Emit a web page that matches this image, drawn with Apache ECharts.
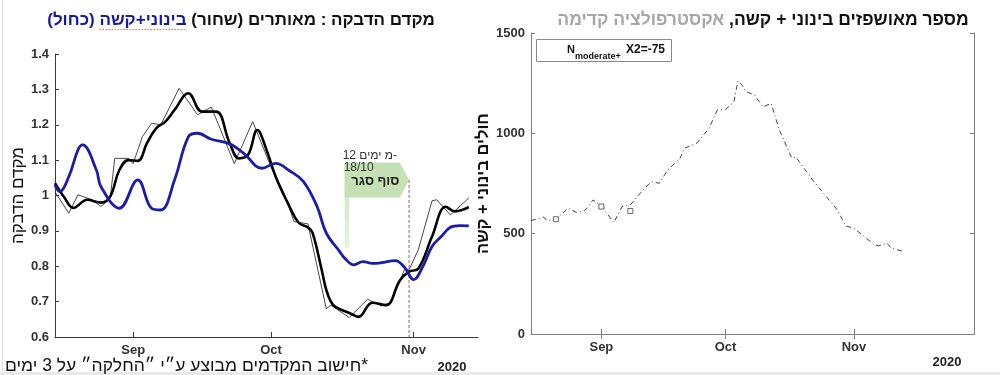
<!DOCTYPE html>
<html><head><meta charset="utf-8">
<script src="https://cdn.jsdelivr.net/npm/echarts@6/dist/echarts.min.js"></script>
<style>html,body{margin:0;padding:0;background:#fff}#c{width:1000px;height:375px}</style>
</head><body><div id="c"></div>
<script>
// ---------- data ----------
const monthTicks = {'09-01':'Sep','10-01':'Oct','11-01':'Nov'};
const leftYTicks = [0.6,0.7,0.8,0.9,1.0,1.1,1.2,1.3,1.4];
const rightYTicks = [0,500,1000,1500];

// smoothed (thick black) reproduction coefficient, detected cases
const thickBlack = [['08-15',1.035],['08-17',0.995],['08-19',0.965],['08-22',0.988],['08-25',0.98],['08-27',0.997],['08-29',1.072],['08-31',1.10],['09-02',1.098],['09-04',1.148],['09-06',1.19],['09-08',1.209],['09-10',1.242],['09-13',1.289],['09-16',1.237],['09-19',1.237],['09-22',1.148],['09-24',1.105],['09-26',1.115],['09-28',1.185],['09-30',1.129],['10-02',1.053],['10-05',0.969],['10-07',0.923],['10-09',0.91],['10-10',0.895],['10-12',0.79],['10-13',0.733],['10-14',0.70],['10-15',0.685],['10-18',0.668],['10-20',0.657],['10-23',0.697],['10-26',0.69],['10-29',0.76],['10-31',0.785],['11-02',0.793],['11-05',0.884],['11-08',0.968],['11-10',0.955],['11-13',0.967]];
// raw (thin black)
const thinBlack = [['08-15',1.01],['08-18',0.95],['08-20',1.002],['08-23',0.988],['08-25',0.969],['08-27',0.992],['08-28',1.105],['08-31',1.105],['09-01',1.09],['09-03',1.166],['09-05',1.204],['09-07',1.20],['09-11',1.303],['09-15',1.228],['09-18',1.25],['09-23',1.09],['09-27',1.209],['10-01',1.08],['10-04',1.0],['10-06',0.926],['10-09',0.92],['10-13',0.68],['10-14',0.69],['10-18',0.655],['10-22',0.707],['10-23',0.70],['10-25',0.688],['10-27',0.696],['10-30',0.79],['10-31',0.79],['11-02',0.846],['11-05',0.985],['11-06',0.988],['11-09',0.945],['11-13',0.993]];
// moderate+severe (blue)
const blueSevere = [['08-15',1.03],['08-16',1.011],['08-18',1.053],['08-20',1.129],['08-21',1.143],['08-24',1.072],['08-25',1.025],['08-29',0.964],['09-02',1.044],['09-05',0.964],['09-07',0.959],['09-10',1.044],['09-13',1.166],['09-15',1.176],['09-18',1.159],['09-22',1.146],['09-25',1.12],['09-29',1.077],['10-02',1.091],['10-05',1.07],['10-08',1.04],['10-11',0.969],['10-13',0.894],['10-16',0.84],['10-17',0.823],['10-19',0.804],['10-21',0.813],['10-23',0.808],['10-25',0.81],['10-28',0.816],['10-30',0.797],['11-01',0.762],['11-03',0.799],['11-05',0.856],['11-07',0.884],['11-09',0.91],['11-11',0.915],['11-13',0.914]];
// hospitalized moderate+severe (right panel)
const hospital = [['08-15',565],['08-18',582],['08-19',565],['08-21',572],['08-24',627],['08-26',605],['08-28',615],['08-30',668],['09-01',638],['09-04',555],['09-06',635],['09-08',643],['09-10',693],['09-13',759],['09-15',751],['09-17',817],['09-20',875],['09-21',925],['09-24',950],['09-27',1025],['09-29',1116],['10-01',1119],['10-03',1157],['10-04',1262],['10-05',1240],['10-06',1207],['10-08',1191],['10-10',1132],['10-12',1149],['10-14',1016],['10-17',876],['10-18',881],['10-22',768],['10-25',693],['10-28',618],['10-30',539],['11-01',527],['11-03',494],['11-06',444],['11-07',439],['11-09',453],['11-10',428],['11-13',411]];
const hospitalMarks = [['08-21',572],['09-01',635],['09-08',613]];

// annotation (flag "end of lockdown"): pole dates, body end, tip date; y values
const flagDates = ['10-17','10-18','10-29','10-31'];
const flagValues = [1.093, 1.044, 0.994, 0.852];

// ---------- categories ----------
function dayRange(a, b) {
  const out = [];
  const d = new Date(Date.UTC(2020, +a.slice(0,2)-1, +a.slice(3)));
  const e = new Date(Date.UTC(2020, +b.slice(0,2)-1, +b.slice(3)));
  while (d <= e) {
    out.push(String(d.getUTCMonth()+1).padStart(2,'0') + '-' + String(d.getUTCDate()).padStart(2,'0'));
    d.setUTCDate(d.getUTCDate()+1);
  }
  return out;
}
const leftCats = dayRange('08-15','11-15');
const rightCats = dayRange('08-15','11-30');

const FONT = '"Liberation Sans", Arimo, "DejaVu Sans", sans-serif';
const rtl = s => '\u202B' + s + '\u202C';

// text measuring helper (for the spell-check squiggle under the blue words)
const mctx = document.createElement('canvas').getContext('2d');
function tw(text, font) { mctx.font = font; return mctx.measureText(text).width; }

const chart = echarts.init(document.getElementById('c'), null, {renderer:'canvas'});

const monthInterval = (i, v) => Object.prototype.hasOwnProperty.call(monthTicks, v);
function catAxis(gridIndex, data, color, opts) {
  return Object.assign({
    type: 'category', gridIndex, data, boundaryGap: false,
    axisLine: {show: true, lineStyle: {color, width: 1}},
    axisTick: {show: true, inside: true, length: 5, interval: monthInterval, lineStyle: {color}},
    axisLabel: {show: true, interval: monthInterval, formatter: v => monthTicks[v] || '',
      color: '#333', fontWeight: 'bold', fontSize: 13, fontFamily: FONT, margin: 7},
    splitLine: {show: false}
  }, opts || {});
}

const flagIdx = flagDates.map(d => leftCats.indexOf(d));

function renderFlag(params, api) {
  const [pl, pr, br, tp] = flagIdx;
  const [top, tipY, bot, poleBot] = flagValues;
  const pTL = api.coord([pl, top]);
  const pBR = api.coord([pr, poleBot]);
  const bTR = api.coord([br, top]);
  const tip = api.coord([tp, tipY]);
  const bBR = api.coord([br, bot]);
  const bBL = api.coord([pl, bot]);
  const base = api.coord([tp, 0.6]);
  const green = '#c6e0b5';
  return {
    type: 'group',
    children: [
      {type: 'rect', shape: {x: pTL[0], y: pTL[1], width: pBR[0]-pTL[0], height: pBR[1]-pTL[1]},
        style: {fill: new echarts.graphic.LinearGradient(0,0,0,1,[{offset:0,color:green},{offset:1,color:'#e8f2e1'}])}},
      {type: 'polygon', shape: {points: [pTL, bTR, tip, bBR, bBL]}, style: {fill: green}},
      {type: 'line', shape: {x1: tip[0], y1: tip[1], x2: base[0], y2: base[1]},
        style: {stroke: '#c0504d', lineWidth: 1, lineDash: [3,2]}},
      {type: 'text', x: (pTL[0]+bTR[0])/2 + 3, y: (pTL[1]+bBL[1])/2 + 1,
        style: {text: rtl('סוף סגר'), fill: '#222', font: 'bold 13px ' + FONT, align: 'center', verticalAlign: 'middle'}},
      {type: 'text', x: pTL[0] - 2, y: pTL[1] - 7,
        style: {text: '{a|12 }{a|ימים }{a|מ-}', rich: {a: {fill: '#333', font: '12px ' + FONT}},
          align: 'left', verticalAlign: 'middle'}},
      {type: 'text', x: pTL[0] - 1, y: pTL[1] + 5,
        style: {text: '18/10', fill: '#333', font: '12px ' + FONT, align: 'left', verticalAlign: 'middle'}}
    ]
  };
}

// title layout
const T1F = 'bold 17px ' + FONT;
const t1Blue = 'בינוני+קשה (כחול)';
const t1Black = 'מקדם הדבקה : מאותרים (שחור)';
const t1W = tw(t1Blue + ' ', T1F) + tw(t1Black, T1F);
const t1Left = 241 - t1W / 2;
const sqX1 = t1Left + tw('(כחול) ', T1F);
const sqX2 = t1Left + tw(t1Blue, T1F);
const T2F = 'bold 17.5px ' + FONT;

const option = {
  animation: false,
  backgroundColor: '#ffffff',
  textStyle: {fontFamily: FONT},
  grid: [
    {left: 55, right: 522, top: 54, bottom: 38, outerBoundsMode: 'none'},
    {left: 531, right: 26, top: 33, bottom: 41, outerBoundsMode: 'none'}
  ],
  xAxis: [
    catAxis(0, leftCats, '#3a3a3a'),
    catAxis(1, rightCats, '#808080'),
    catAxis(1, rightCats, '#808080', {position: 'top', axisLabel: {show: false}})
  ],
  yAxis: [
    {type: 'value', gridIndex: 0, min: 0.6, max: 1.4, interval: 0.1,
      axisLine: {show: true, lineStyle: {color: '#3a3a3a'}},
      axisTick: {show: true, inside: true, length: 4, lineStyle: {color: '#3a3a3a'}},
      axisLabel: {color: '#333', fontWeight: 'bold', fontSize: 13, fontFamily: FONT, margin: 6,
        formatter: v => String(Math.round(v*10)/10)},
      splitLine: {show: false},
      name: rtl('מקדם הדבקה'), nameLocation: 'middle', nameRotate: 90, nameGap: 28,
      nameTextStyle: {color: '#111', fontSize: 17, fontFamily: FONT}},
    {type: 'value', gridIndex: 1, min: 0, max: 1500, interval: 500,
      axisLine: {show: true, lineStyle: {color: '#808080'}},
      axisTick: {show: true, inside: true, length: 4, lineStyle: {color: '#808080'}},
      axisLabel: {color: '#333', fontWeight: 'bold', fontSize: 13, fontFamily: FONT, margin: 6,
        formatter: v => String(v)},
      splitLine: {show: false},
      name: rtl('חולים בינוני + קשה'), nameLocation: 'middle', nameRotate: 90, nameGap: 26,
      nameTextStyle: {color: '#111', fontSize: 16.5, fontWeight: 'bold', fontFamily: FONT}},
    {type: 'value', gridIndex: 1, min: 0, max: 1500, interval: 500, position: 'right',
      axisLine: {show: true, lineStyle: {color: '#808080'}},
      axisTick: {show: true, inside: true, length: 4, lineStyle: {color: '#808080'}},
      axisLabel: {show: false}, splitLine: {show: false}}
  ],
  series: [
    {type: 'custom', xAxisIndex: 0, yAxisIndex: 0, renderItem: renderFlag, data: [[flagIdx[0], flagValues[0]]],
      encode: {x: 0, y: 1}, silent: true, clip: false, z: 1},
    {name: 'thin', type: 'line', xAxisIndex: 0, yAxisIndex: 0, data: thinBlack, showSymbol: false, symbol: 'none',
      lineStyle: {color: '#333', width: 0.9}, z: 3},
    {name: 'black', type: 'line', xAxisIndex: 0, yAxisIndex: 0, data: thickBlack, smooth: 0.4, symbol: 'none',
      lineStyle: {color: '#000', width: 2.6}, z: 4},
    {name: 'blue', type: 'line', xAxisIndex: 0, yAxisIndex: 0, data: blueSevere, smooth: 0.4, symbol: 'none',
      lineStyle: {color: '#1c1ca8', width: 2.8}, z: 5},
    {name: 'hosp', type: 'line', xAxisIndex: 1, yAxisIndex: 1, data: hospital, symbol: 'none',
      lineStyle: {color: '#444', width: 1, type: [5,3,1,3]}, z: 3},
    {name: 'marks', type: 'scatter', xAxisIndex: 1, yAxisIndex: 1, data: hospitalMarks, symbol: 'rect', symbolSize: 5,
      itemStyle: {color: '#fff', borderColor: '#444', borderWidth: 1}, z: 4}
  ],
  graphic: [
    {type: 'rect', left: 0, top: 372, shape: {width: 1000, height: 3}, style: {fill: '#e9e9e9'}},
    {type: 'rect', left: 2, top: 0, shape: {width: 1, height: 372}, style: {fill: '#dcdcdc'}},
    {type: 'text', x: 241, y: 20, style: {
      text: '{b|' + rtl(t1Blue) + ' }{k|' + rtl(t1Black) + '}',
      align: 'center', verticalAlign: 'middle',
      rich: {b: {fill: '#1a1a9c', font: T1F}, k: {fill: '#111', font: T1F}}}},
    {type: 'line', shape: {x1: sqX1, y1: 29.5, x2: sqX2, y2: 29.5}, style: {stroke: '#e07070', lineWidth: 1, lineDash: [1.5,1.5]}},
    {type: 'text', x: 763, y: 20, style: {
      text: '{g|' + rtl('אקסטרפולציה קדימה') + ' }{k|' + rtl('מספר מאושפזים בינוני + קשה,') + '}',
      align: 'center', verticalAlign: 'middle',
      rich: {g: {fill: '#a6a6a6', font: T2F}, k: {fill: '#111', font: T2F}}}},
    {type: 'text', x: 5, y: 366, style: {text: rtl('*חישוב המקדמים מבוצע ע״י ״החלקה״ על 3 ימים'),
      fill: '#111', font: '17.5px ' + FONT, align: 'left', verticalAlign: 'middle'}},
    {type: 'text', x: 452, y: 367, style: {text: '2020', fill: '#222', font: 'bold 13px ' + FONT, align: 'center', verticalAlign: 'middle'}},
    {type: 'text', x: 947, y: 362, style: {text: '2020', fill: '#222', font: 'bold 13px ' + FONT, align: 'center', verticalAlign: 'middle'}},
    {type: 'rect', left: 536, top: 39, shape: {width: 135, height: 22}, style: {fill: '#fff', stroke: '#8a8a8a', lineWidth: 1}, z: 10},
    {type: 'text', x: 567, y: 50, z: 11, style: {text: 'N', fill: '#111', font: 'bold 11px ' + FONT, align: 'left', verticalAlign: 'middle'}},
    {type: 'text', x: 575, y: 57, z: 11, style: {text: 'moderate+', fill: '#111', font: 'bold 9px ' + FONT, align: 'left', verticalAlign: 'middle'}},
    {type: 'text', x: 665, y: 50, z: 11, style: {text: 'X2=-75', fill: '#111', font: 'bold 12px ' + FONT, align: 'right', verticalAlign: 'middle'}}
  ]
};
chart.setOption(option);
</script></body></html>
